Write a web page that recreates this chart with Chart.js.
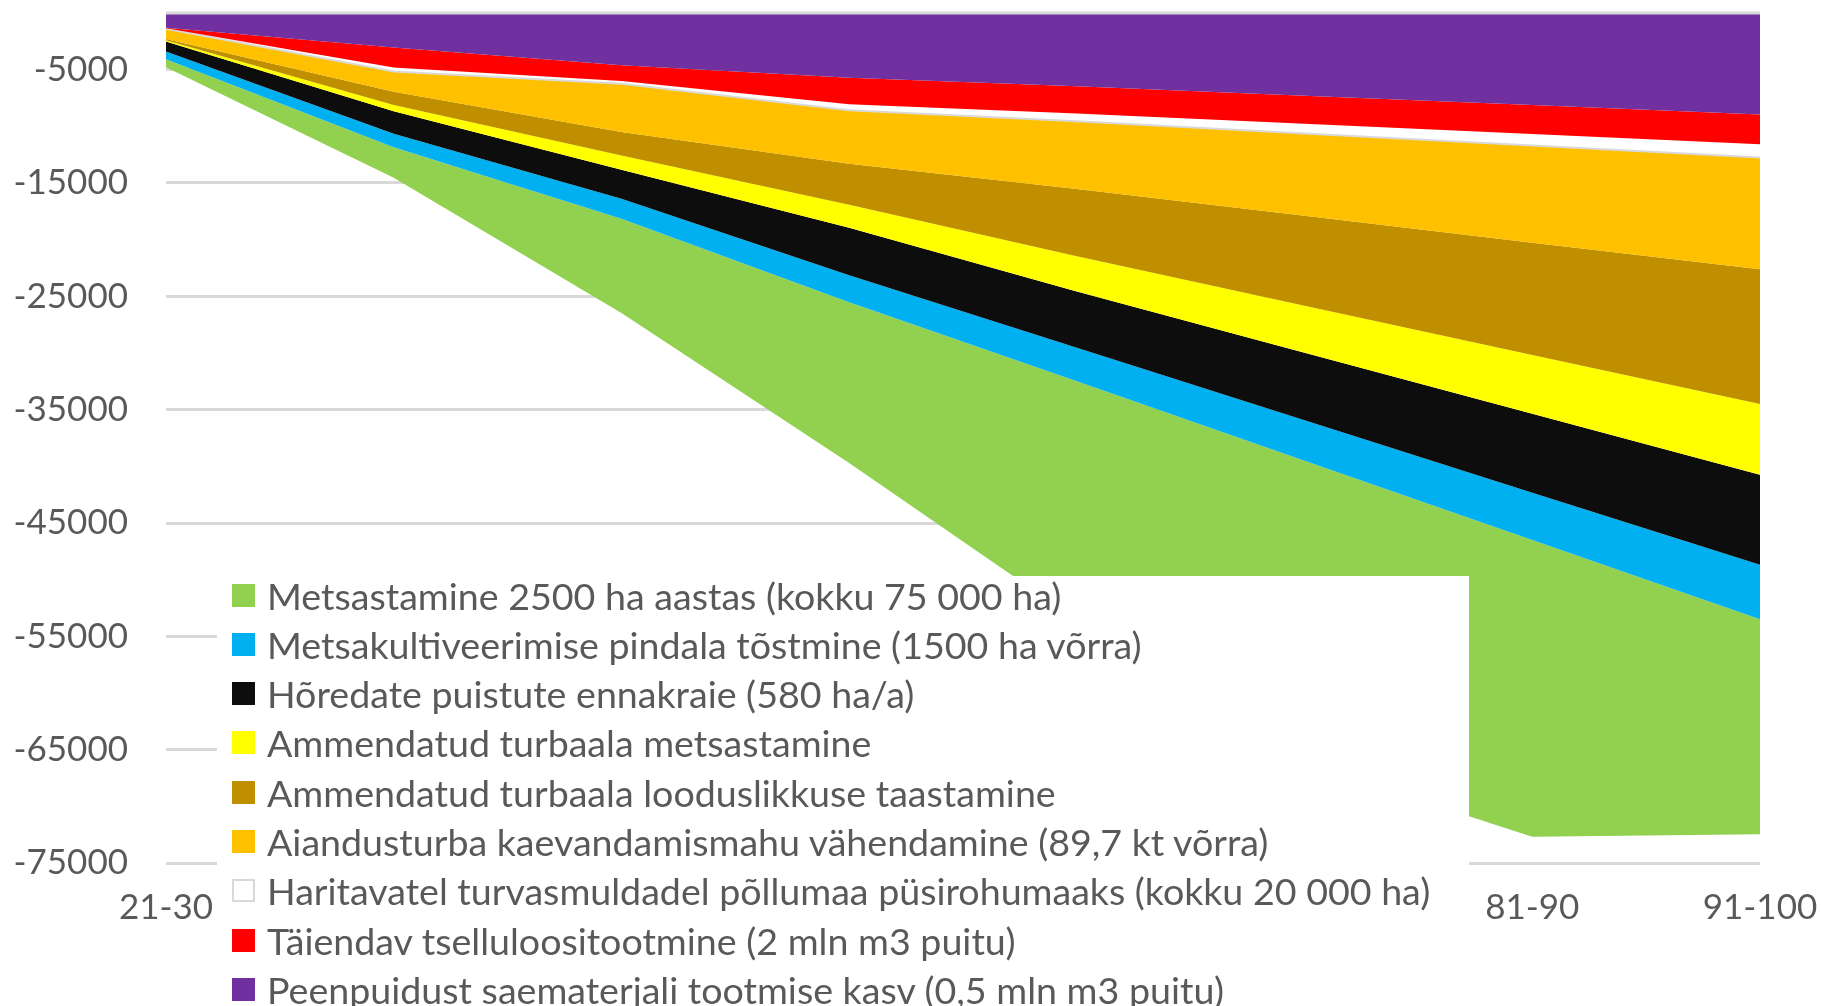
<!DOCTYPE html>
<html>
<head>
<meta charset="utf-8">
<script src="https://cdn.jsdelivr.net/npm/chart.js@4.4.0/dist/chart.umd.min.js"></script>
<style>
    html, body { margin: 0; padding: 0; background: #ffffff; overflow: hidden; }
    #wrap { position: relative; width: 1821px; height: 1006px; }
    #legendBox {
        position: absolute; left: 217px; top: 576px; width: 1252px; height: 430px;
        background: #ffffff; font-family: Lato, sans-serif; font-size: 37.6px; color: #595959;
    }
    .legendRow { position: absolute; left: 0; height: 49px; line-height: 49px; white-space: nowrap; }
    .legendBox { position: absolute; left: 15px; top: 13px; width: 23px; height: 23px; box-sizing: border-box; }
    .legendText { position: absolute; left: 50px; top: 0; }
</style>
</head>
<body>
<div id="wrap">
    <canvas id="chart" width="1821" height="1006"></canvas>
    <div id="legendBox"></div>
</div>
<script>
var periods = ["21-30", "31-40", "41-50", "51-60", "61-70", "71-80", "81-90", "91-100"];

// stacking order from the zero line downwards
var peenpuit = [-1300, -3040, -4620, -5710, -6470, -7300, -8120, -8950];
var tselluloos = [-45, -1770, -1380, -2340, -2390, -2470, -2560, -2630];
var rohumaa = [-45, -350, -240, -530, -700, -860, -1010, -1170];
var aiandusturvas = [-910, -1790, -4260, -4720, -5970, -7270, -8580, -9870];
var looduslikkus = [-110, -1170, -2070, -3620, -5940, -7920, -9910, -11890];
var turbaalaMets = [-110, -550, -1260, -2030, -3110, -4160, -5190, -6230];
var ennakraie = [-880, -1990, -2560, -4190, -4960, -5960, -6950, -7940];
var kultiveerimine = [-670, -1190, -1770, -2380, -2960, -3570, -4190, -4810];
var metsastamine = [-720, -2690, -8320, -14190, -21050, -26660, -26180, -18970];

var yTicks = [-75000, -65000, -55000, -45000, -35000, -25000, -15000, -5000, 0];

var series = [
    { label: "Peenpuidust saematerjali tootmise kasv (0,5 mln m3 puitu)", data: peenpuit, color: "#7030A0" },
    { label: "Täiendav tselluloositootmine (2 mln m3 puitu)", data: tselluloos, color: "#FF0000" },
    { label: "Haritavatel turvasmuldadel põllumaa püsirohumaaks (kokku 20 000 ha)", data: rohumaa, color: "#FFFFFF", edge: "#D9D9D9" },
    { label: "Aiandusturba kaevandamismahu vähendamine (89,7 kt võrra)", data: aiandusturvas, color: "#FFC000" },
    { label: "Ammendatud turbaala looduslikkuse taastamine", data: looduslikkus, color: "#BF8F00" },
    { label: "Ammendatud turbaala metsastamine", data: turbaalaMets, color: "#FFFF00" },
    { label: "Hõredate puistute ennakraie (580 ha/a)", data: ennakraie, color: "#0D0D0D" },
    { label: "Metsakultiveerimise pindala tõstmine (1500 ha võrra)", data: kultiveerimine, color: "#00B0F0" },
    { label: "Metsastamine 2500 ha aastas (kokku 75 000 ha)", data: metsastamine, color: "#92D050" }
];

function buildDatasets() {
    var sets = [];
    series.forEach((s, i) => {
        sets.push({
            label: s.label,
            data: s.data,
            backgroundColor: s.color,
            borderColor: s.edge ? s.edge : s.color,
            borderWidth: s.edge ? 2 : 0,
            pointRadius: 0,
            tension: 0,
            fill: i == 0 ? "origin" : "-1"
        });
    });
    return sets;
}

// legend is html so it can sit over the plot like in the original
var htmlLegend = {
    id: "htmlLegend",
    afterUpdate: function(chart) {
        var box = document.getElementById("legendBox");
        box.innerHTML = "";
        var items = chart.options.plugins.legend.labels.generateLabels(chart).slice().reverse();
        items.forEach((item, i) => {
            var row = document.createElement("div");
            row.className = "legendRow";
            row.style.top = (19 - 24.5 + i * 49.3) + "px";
            var sw = document.createElement("div");
            sw.className = "legendBox";
            sw.style.background = item.fillStyle;
            if (item.fillStyle == "#FFFFFF") sw.style.border = "2px solid #D9D9D9";
            var txt = document.createElement("span");
            txt.className = "legendText";
            txt.textContent = item.text;
            row.appendChild(sw);
            row.appendChild(txt);
            box.appendChild(row);
        });
    }
};

// category axis sits at zero, drawn over the areas
var zeroLine = {
    id: "zeroLine",
    afterDatasetsDraw: function(chart) {
        var c = chart.ctx;
        var area = chart.chartArea;
        var y = chart.scales.y.getPixelForValue(0);
        c.save();
        c.strokeStyle = "#D9D9D9";
        c.lineWidth = 3;
        c.beginPath();
        c.moveTo(area.left, y);
        c.lineTo(area.right, y);
        c.stroke();
        c.restore();
    }
};

var config = {
    type: "line",
    data: {
        labels: periods,
        datasets: buildDatasets()
    },
    options: {
        responsive: false,
        animation: false,
        layout: { padding: { top: 13, right: 61, left: 0, bottom: 0 } },
        plugins: {
            legend: { display: false },
            tooltip: { enabled: false }
        },
        scales: {
            x: {
                offset: false,
                grid: { display: false, drawTicks: false },
                border: { display: false },
                ticks: {
                    color: "#595959",
                    font: { family: "Lato", size: 35 },
                    padding: 24,
                    maxRotation: 0,
                    autoSkip: false
                },
                afterFit: function(scale) {
                    scale.height = 1006 - 863;
                    scale.paddingLeft = 0;
                    scale.paddingRight = 0;
                }
            },
            y: {
                stacked: true,
                min: -75000,
                max: 0,
                grid: { color: "#D9D9D9", lineWidth: 3, drawTicks: false },
                border: { display: false },
                ticks: {
                    color: "#595959",
                    font: { family: "Lato", size: 35 },
                    padding: 38,
                    callback: function(v) { return v == 0 ? "" : v; }
                },
                afterBuildTicks: function(scale) {
                    scale.ticks = yTicks.map((v) => ({ value: v }));
                },
                afterFit: function(scale) {
                    scale.width = 166;
                    scale.paddingTop = 0;
                    scale.paddingBottom = 0;
                }
            }
        }
    },
    plugins: [htmlLegend, zeroLine]
};

var ctx = document.getElementById("chart");
window.myChart = new Chart(ctx, config);
</script>
</body>
</html>
